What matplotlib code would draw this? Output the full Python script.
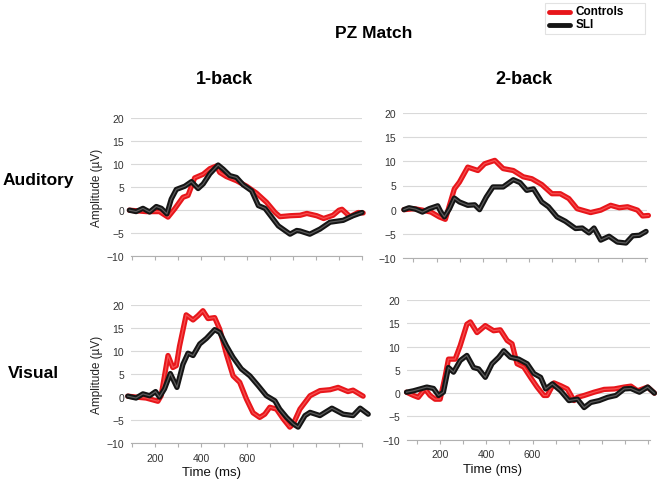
import matplotlib.pyplot as plt
from matplotlib.lines import Line2D
from matplotlib.patches import Rectangle

plt.rcParams['font.family'] = ['Liberation Sans', 'DejaVu Sans']

# ---- data (time in ms, amplitude in uV) ----
# Auditory, 1-back
aud1_ctrl_t = [88, 161, 219, 256, 285, 321, 343, 372, 409, 438, 467, 481, 510, 554, 598,
               641, 685, 722, 743, 787, 831, 860, 903, 933, 974, 1000, 1013, 1048, 1083, 1105]
aud1_ctrl = [0, -0.3, -0.3, -1.5, 0.3, 2.8, 3.2, 7, 7.8, 9, 9.6, 8.2, 7.3, 6.4, 5.2,
             3.7, 1.7, -0.5, -1.4, -1.2, -1.1, -0.7, -1.2, -1.8, -1.1, 0, 0.2, -1.4, -0.5, -0.6]
aud1_sli_t = [88, 117, 147, 176, 205, 227, 251, 270, 292, 329, 358, 387, 409, 438, 474, 496,
              525, 554, 583, 620, 649, 678, 707, 736, 787, 816, 830, 873, 917, 961, 1018, 1061, 1100]
aud1_sli = [0, -0.3, 0.4, -0.4, 0.8, 0.4, -0.8, 2.4, 4.5, 5.2, 6.2, 4.7, 5.7, 7.9, 9.8, 8.9,
            7.5, 7.1, 5.5, 4.2, 1, 0.4, -1.5, -3.4, -5.2, -4.4, -4.5, -5.2, -4.1, -2.6, -2.2, -1.2, -0.5]

# Auditory, 2-back
aud2_ctrl_t = [59, 103, 139, 176, 212, 238, 256, 277, 299, 335, 379, 408, 452, 488, 532, 575,
               612, 655, 699, 735, 772, 808, 866, 910, 953, 990, 1026, 1069, 1091, 1116]
aud2_ctrl = [0, 0.2, -0.1, -0.5, -1.5, -2, 0.9, 4.3, 5.7, 8.8, 8.1, 9.5, 10.2, 8.5, 8.1, 6.8,
             6.4, 5.2, 3.3, 3.3, 2.3, 0.2, -0.6, -0.1, 0.9, 0.4, 0.6, -0.1, -1.3, -1.2]
aud2_sli_t = [59, 81, 110, 139, 168, 205, 219, 234, 256, 277, 299, 335, 365, 386, 415, 444, 488,
              532, 561, 590, 619, 655, 684, 721, 757, 801, 830, 859, 881, 910, 946, 982, 1019,
              1048, 1077, 1106]
aud2_sli = [0, 0.4, 0.1, -0.5, 0.2, 0.8, -0.5, -1.5, 0.2, 2.4, 1.6, 0.9, 1, 0, 2.6, 4.7, 4.7,
            6.2, 5.6, 4, 4.3, 1.6, 0.6, -1.5, -2.4, -3.9, -3.8, -4.8, -3.8, -6.3, -5.5, -6.7, -6.9,
            -5.4, -5.3, -4.5]

# Visual, 1-back
vis1_ctrl_t = [81, 117, 161, 212, 226, 256, 277, 292, 306, 335, 365, 386, 408, 430, 459, 481,
               510, 539, 568, 597, 626, 655, 677, 699, 728, 757, 786, 801, 830, 874, 917, 961,
               996, 1039, 1061, 1105]
vis1_ctrl = [0.2, 0, -0.2, -0.9, 0.3, 9, 6.4, 6.8, 11, 17.8, 16.7, 17.6, 18.7, 17, 17.2, 14.7,
             9.3, 4.6, 3.2, -0.4, -3.4, -4.4, -3.7, -2.2, -2.6, -4.7, -6.5, -5.8, -2.6, 0.3, 1.4,
             1.6, 2.1, 1.2, 1.5, 0.2]
vis1_sli_t = [81, 117, 147, 176, 202, 219, 241, 266, 295, 321, 343, 365, 394, 423, 459, 481,
              510, 539, 575, 612, 648, 684, 721, 742, 772, 801, 822, 852, 874, 917, 969, 1018,
              1061, 1092, 1127]
vis1_sli = [0.2, -0.2, 0.7, 0.3, 1.2, 0, 1.8, 5.1, 2.1, 7.1, 9.5, 9, 11.5, 12.7, 14.6, 14,
            11.1, 8.6, 6.1, 4.6, 2.5, 0.3, -0.8, -2.6, -4.4, -5.8, -6.5, -4, -3.3, -4, -2.4, -3.7,
            -4, -2.4, -3.7]

# Visual, 2-back
vis2_ctrl_t = [53, 83, 104, 133, 155, 177, 199, 221, 235, 264, 286, 315, 330, 359, 395, 431,
               460, 490, 511, 533, 562, 591, 620, 649, 664, 693, 722, 751, 780, 795, 824, 867,
               911, 955, 998, 1027, 1056, 1100, 1129]
vis2_ctrl = [0.2, -0.5, -0.9, 0.9, -0.5, -1.3, -1.3, 3.7, 7.3, 7.3, 10.2, 14.8, 15.3, 13, 14.5,
             13.4, 13.6, 11.3, 10.6, 6.3, 5.6, 3.4, 1.3, -0.5, -0.5, 2.2, 1.6, 0.9, -1.6, -0.9,
             -0.5, 0.2, 0.8, 0.9, 1.3, 1.5, 0.5, 1.3, 0]
vis2_sli_t = [53, 83, 112, 141, 170, 192, 213, 235, 257, 286, 315, 344, 366, 395, 424, 453, 475,
              504, 540, 577, 606, 635, 657, 686, 722, 758, 795, 824, 853, 889, 926, 962, 998,
              1027, 1064, 1100, 1129]
vis2_sli = [0.2, 0.5, 0.9, 1.3, 1, -0.5, 0.2, 5.5, 4.5, 7, 8.1, 5.5, 5.2, 3.4, 6.3, 7.7, 9.1,
            7.7, 7.3, 6.3, 4.2, 3.4, 0.9, 2, 0.5, -1.6, -1.3, -3.1, -2, -1.6, -0.9, -0.5, 0.9,
            1, 0.2, 1.3, 0]

group_names = ['Controls', 'SLI']
group_colors = ['#e8161b', '#151515']

W, H = 662, 485
fig = plt.figure(figsize=(W / 100, H / 100), dpi=100)


def place(x0, x1, ytop, ybot):
    return fig.add_axes([x0 / W, 1 - ybot / H, (x1 - x0) / W, (ybot - ytop) / H])


def panel(ax, ct, cv, st, sv, xlim, bottom_row, ylabel):
    ax.set_xlim(*xlim)
    ax.set_ylim(-10, 20)
    ax.set_yticks(range(-10, 21, 5))
    ax.set_xticks(range(100, 1101, 100))
    if bottom_row:
        ax.set_xticklabels([str(t) if t in (200, 400, 600) else '' for t in range(100, 1101, 100)])
    else:
        ax.set_xticklabels([])
    ax.grid(axis='y', color='#d9d9d9', lw=0.8)
    ax.set_axisbelow(True)
    for s in ('top', 'right', 'left'):
        ax.spines[s].set_visible(False)
    ax.spines['bottom'].set_color('#b0b0b0')
    ax.tick_params(axis='y', length=0, pad=5, labelsize=7.5, labelcolor='#333333')
    ax.tick_params(axis='x', length=3, color='#b0b0b0', pad=4, labelsize=7.5, labelcolor='#333333')
    # thick traces with a slightly lighter core
    ax.plot(ct, cv, color=group_colors[0], lw=3.8, solid_joinstyle='round', solid_capstyle='round', clip_on=False)
    ax.plot(ct, cv, color='#f65050', lw=0.9, clip_on=False)
    ax.plot(st, sv, color=group_colors[1], lw=3.8, solid_joinstyle='round', solid_capstyle='round', clip_on=False)
    ax.plot(st, sv, color='#5a5a5a', lw=0.9, clip_on=False)
    if ylabel:
        ax.text(-0.148, 0.5, 'Amplitude (\u00b5V)', transform=ax.transAxes, rotation=90,
                ha='center', va='center', fontsize=8.5, color='#222222')
    if bottom_row:
        ax.text(xlim[0] + 0.35 * (xlim[1] - xlim[0]), -16.3, 'Time (ms)', ha='center', va='center',
                fontsize=9.5, color='#111111')


ax_tl = place(131, 362, 119, 257.3)
ax_tr = place(403, 647, 114, 259)
ax_bl = place(131, 362, 305.7, 444.3)
ax_br = place(407, 650, 301, 440.7)

panel(ax_tl, aud1_ctrl_t, aud1_ctrl, aud1_sli_t, aud1_sli, (95, 1100), False, True)
panel(ax_tr, aud2_ctrl_t, aud2_ctrl, aud2_sli_t, aud2_sli, (55, 1110), False, False)
panel(ax_bl, vis1_ctrl_t, vis1_ctrl, vis1_sli_t, vis1_sli, (95, 1100), True, True)
panel(ax_br, vis2_ctrl_t, vis2_ctrl, vis2_sli_t, vis2_sli, (55, 1110), True, False)


def ftext(x, y, s, **kw):
    fig.text(x / W, 1 - y / H, s, fontweight='bold', va='center', **kw)


ftext(374, 33.5, 'PZ Match', fontsize=12.5, ha='center')
ftext(224, 80, '1-back', fontsize=13, ha='center')
ftext(524, 80, '2-back', fontsize=13, ha='center')
ftext(3, 181, 'Auditory', fontsize=12.5, ha='left')
ftext(8, 374, 'Visual', fontsize=12.5, ha='left')

# legend box drawn by hand so its size matches the reference
fig.add_artist(Rectangle((545 / W, 1 - 35 / H), 100 / W, 31 / H, transform=fig.transFigure,
                         facecolor='white', edgecolor='#e2e2e2', lw=0.8))
for i, (name, col) in enumerate(zip(group_names, group_colors)):
    y = 12.5 + 13 * i
    fig.add_artist(Line2D([549 / W, 570 / W], [1 - y / H] * 2, transform=fig.transFigure,
                          color=col, lw=3.5, solid_capstyle='round'))
    ftext(576, y - 0.5, name, fontsize=8.5, ha='left')

fig.savefig('out.png', dpi=100)
